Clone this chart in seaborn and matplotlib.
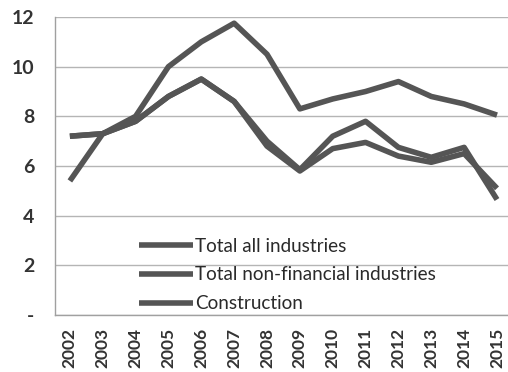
import matplotlib
matplotlib.use("Agg")
import matplotlib.pyplot as plt
import seaborn as sns
import pandas as pd

years = list(range(2002, 2016))
total_all = [7.2, 7.3, 7.8, 8.8, 9.5, 8.6, 7.0, 5.85, 7.2, 7.8, 6.75, 6.35, 6.75, 4.65]
total_non_fin = [7.2, 7.3, 7.8, 8.8, 9.5, 8.6, 6.8, 5.8, 6.7, 6.95, 6.4, 6.15, 6.5, 5.1]
construction = [5.4, 7.3, 8.0, 10.0, 11.0, 11.75, 10.5, 8.3, 8.7, 9.0, 9.4, 8.8, 8.5, 8.05]
series_names = ["Total all industries", "Total non-financial industries", "Construction"]
y_ticks = [0, 2, 4, 6, 8, 10, 12]
y_tick_labels = ["-", "2", "4", "6", "8", "10", "12"]

df = pd.concat([
    pd.DataFrame({"year": years, "value": vals, "series": name})
    for name, vals in zip(series_names, [total_all, total_non_fin, construction])
])

sns.set_style("white")
plt.rcParams["font.family"] = ["Lato", "DejaVu Sans"]

line_color = "#555555"
fig = plt.figure(figsize=(5.08, 3.72), dpi=100)
ax = fig.add_axes([0.108, 0.1532, 0.892, 0.8011])

sns.lineplot(data=df, x="year", y="value", hue="series", hue_order=series_names,
             palette=[line_color] * 3, linewidth=4.0, legend=False, ax=ax,
             solid_joinstyle="round", solid_capstyle="butt")

ax.set_ylim(0, 12)
ax.set_xlim(2002 - 15 / 32.85, 2015 + 11 / 32.85)
ax.set_yticks(y_ticks)
ax.set_yticklabels(y_tick_labels)
ax.set_xticks(years)
ax.set_xticklabels([str(y) for y in years], rotation=90)
ax.set_xlabel("")
ax.set_ylabel("")

ax.grid(axis="y", color="#b5b5b5", linewidth=1.0)
ax.set_axisbelow(True)
for side in ["top", "right"]:
    ax.spines[side].set_visible(False)
for side in ["left", "bottom"]:
    ax.spines[side].set_color("#a0a0a0")
    ax.spines[side].set_linewidth(1.0)

ax.tick_params(axis="y", length=0, pad=15, labelsize=14, labelcolor="#333333")
ax.tick_params(axis="x", length=0, pad=9, labelsize=12.5, labelcolor="#333333")
for lab in ax.get_yticklabels() + ax.get_xticklabels():
    lab.set_fontweight("bold")

leg = ax.legend(handles=ax.get_lines()[:3], labels=series_names,
                loc="center left", bbox_to_anchor=(139 / 508, 1 - 275 / 372),
                bbox_transform=fig.transFigure, frameon=False,
                fontsize=13.6, handlelength=2.85, handletextpad=0.1,
                labelspacing=0.62, borderpad=0, borderaxespad=0)
for t in leg.get_texts():
    t.set_color("#2a2a2a")

fig.savefig("out.png", dpi=100)
